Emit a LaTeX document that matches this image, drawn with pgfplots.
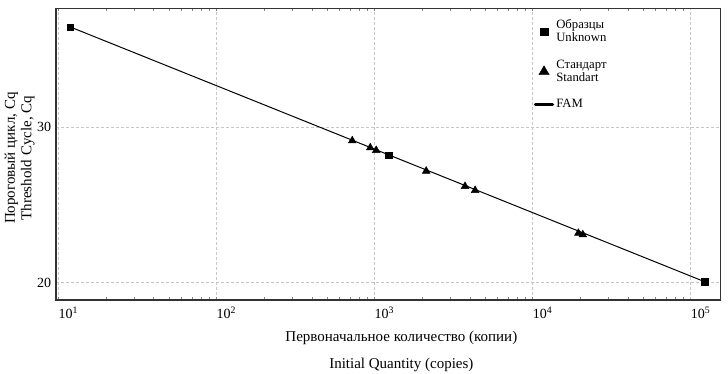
\documentclass[border=0pt]{standalone}
\usepackage{fontspec}
\setmainfont{Liberation Serif}
\usepackage{pgfplots}
\pgfplotsset{compat=1.18}
\begin{document}
\fontsize{14}{16}\selectfont
\begin{tikzpicture}
\begin{axis}[
  xmode=log,
  scale only axis,
  width=664.7pt, height=291.7pt,
  xmin=9.66, xmax=155000,
  ymin=18.89, ymax=37.62,
  xtick={10,100,1000,10000,100000},
  xticklabels={10\textsuperscript{1},10\textsuperscript{2},10\textsuperscript{3},10\textsuperscript{4},10\textsuperscript{5}},
  minor xtick={},
  ytick={20,30},
  /pgf/number format/assume math mode=true,
  major tick length=0pt,
  tick label style={font=\fontsize{14}{16}\selectfont},
  xticklabel style={anchor=north west, inner xsep=0pt, yshift=-2pt},
  yticklabel style={xshift=0pt},
  grid=major,
  major grid style={densely dashed, gray!45, line width=0.5pt},
  axis line style={black!80, line width=1.4pt},
  xlabel={Первоначальное количество (копии)\\[11pt]Initial Quantity (copies)},
  xlabel style={align=center, font=\fontsize{15}{16}\selectfont, xshift=13pt, yshift=-3pt},
  ylabel={Пороговый цикл, Cq\\Threshold Cycle, Cq},
  ylabel style={align=center, font=\fontsize{15}{16.5}\selectfont, yshift=-7pt, xshift=-4pt},
  legend style={at={(rel axis cs:0.714,0.975)}, anchor=north west, draw=none, fill=none,
    cells={align=left}, font=\fontsize{12.7}{13}\selectfont, row sep=12pt},
  legend cell align=left,
]
\addplot[black, line width=1pt, forget plot] coordinates {(11.9,36.42) (123000,20.06)};
\addplot[only marks, mark=square*, mark size=3.2pt, black, forget plot] coordinates {
  (11.9,36.42) (1232,28.2) (123000,20.06)};
\addplot[only marks, mark=triangle*, mark size=4.5pt, black, forget plot] coordinates {
  (723,29.12) (940,28.67) (1025,28.5) (2124,27.17) (3740,26.19) (4330,25.93)
  (19500,23.18) (20800,23.08)};
\addlegendimage{only marks, mark=square*, mark size=3.8pt, black}
\addlegendentry{Образцы\\Unknown}
\addlegendimage{only marks, mark=triangle*, mark size=6pt, black}
\addlegendentry{Стандарт\\Standart}
\addlegendimage{black, line width=3.4pt, line cap=round}
\addlegendentry{FAM}
\coordinate (bl) at (rel axis cs:0,0);
\coordinate (tr) at (rel axis cs:1,1);
\end{axis}
\pgfresetboundingbox
\path ([shift={(-56pt,-73pt)}]bl) rectangle ([shift={(7.3pt,8.3pt)}]tr);
\end{tikzpicture}
\end{document}
